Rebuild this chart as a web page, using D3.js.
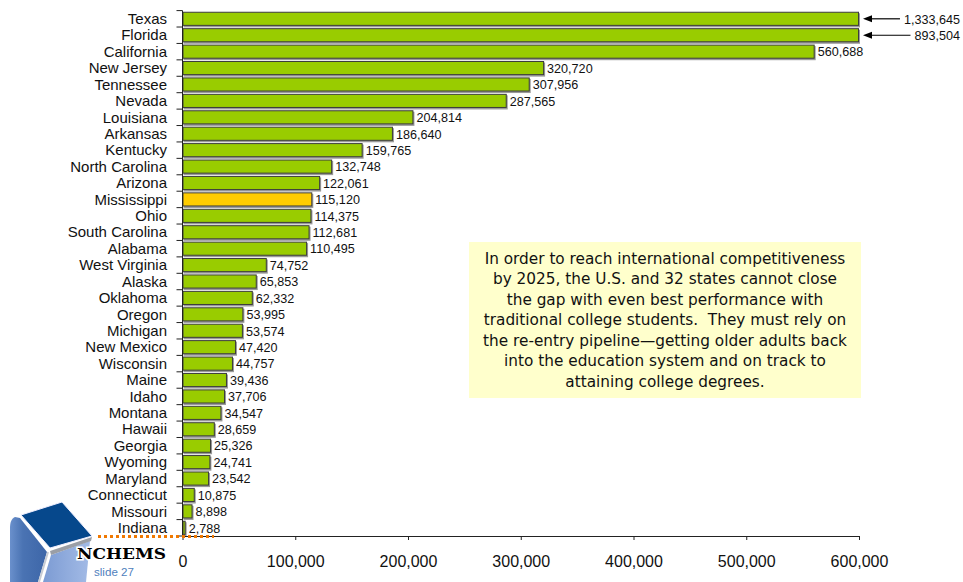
<!DOCTYPE html>
<html>
<head>
<meta charset="utf-8">
<script src="https://cdn.jsdelivr.net/npm/d3@7"></script>
<style>
  html, body { margin: 0; padding: 0; background: #fff; }
  svg { display: block; }
</style>
</head>
<body>
<svg id="chart" width="963" height="582"></svg>
<script>
// Re-entry pipeline gap by state (older adults needed back in the system)
const states = ["Texas","Florida","California","New Jersey","Tennessee","Nevada","Louisiana","Arkansas","Kentucky","North Carolina","Arizona","Mississippi","Ohio","South Carolina","Alabama","West Virginia","Alaska","Oklahoma","Oregon","Michigan","New Mexico","Wisconsin","Maine","Idaho","Montana","Hawaii","Georgia","Wyoming","Maryland","Connecticut","Missouri","Indiana"];
const gapValues = [1333645,893504,560688,320720,307956,287565,204814,186640,159765,132748,122061,115120,114375,112681,110495,74752,65853,62332,53995,53574,47420,44757,39436,37706,34547,28659,25326,24741,23542,10875,8898,2788];
const highlighted = ["Mississippi"];
const xTicks = [0,100000,200000,300000,400000,500000,600000];
const xMax = 600000;
const calloutLines = [
  "In order to reach international competitiveness",
  "by 2025, the U.S. and 32 states cannot close",
  "the gap with even best performance with",
  "traditional college students.  They must rely on",
  "the re-entry pipeline\u2014getting older adults back",
  "into the education system and on track to",
  "attaining college degrees."
];

const data = states.map((s, i) => ({ state: s, value: gapValues[i] }));
const svg = d3.select("#chart");
const fmt = d3.format(",");

const plotLeft = 182.5, plotRight = 859, plotTop = 10.6, plotBottom = 536;
const x = d3.scaleLinear().domain([0, xMax]).range([plotLeft, plotRight]).clamp(true);
const y = d3.scaleBand().domain(states).range([plotTop, plotBottom]).paddingInner(0.14).paddingOuter(0.07);

// Callout box
const box = svg.append("g");
box.append("rect").attr("x", 469).attr("y", 242).attr("width", 392).attr("height", 156).attr("fill", "#ffffcc");
box.append("text")
  .attr("font-family", "DejaVu Sans, Verdana, sans-serif")
  .attr("font-size", 15.3)
  .attr("fill", "#111")
  .attr("text-anchor", "middle")
  .style("white-space", "pre")
  .selectAll("tspan").data(calloutLines).join("tspan")
  .attr("x", 665)
  .attr("y", (d, i) => 263.5 + i * 20.5)
  .text(d => d);

// Bar shadows and bars
const bars = svg.append("g");
bars.selectAll("rect.shadow").data(data).join("rect")
  .attr("class", "shadow")
  .attr("x", plotLeft + 1)
  .attr("y", d => y(d.state) + 1.5)
  .attr("width", d => Math.max(0, x(d.value) - plotLeft))
  .attr("height", y.bandwidth())
  .attr("fill", "#9a9a9a");
bars.selectAll("rect.bar").data(data).join("rect")
  .attr("class", "bar")
  .attr("x", plotLeft + 0.5)
  .attr("y", d => y(d.state) + 0.5)
  .attr("width", d => Math.max(0, x(d.value) - plotLeft - 1))
  .attr("height", y.bandwidth() - 1)
  .attr("fill", d => highlighted.includes(d.state) ? "#ffcc00" : "#99cc00")
  .attr("stroke", "#3c3c3c")
  .attr("stroke-width", 1);

// Value labels; bars past the axis maximum get an arrow and an outside label
const lbl = svg.append("g").attr("font-family", "Liberation Sans, Arial, sans-serif").attr("font-size", 12.6).attr("fill", "#111");
lbl.selectAll("text.in").data(data.filter(d => d.value <= xMax)).join("text")
  .attr("class", "in")
  .attr("x", d => x(d.value) + 3)
  .attr("y", d => y(d.state) + y.bandwidth() / 2 + 4.8)
  .text(d => fmt(d.value));

const over = data.filter(d => d.value > xMax);
const overText = lbl.selectAll("text.over").data(over).join("text")
  .attr("class", "over")
  .attr("x", 960)
  .attr("text-anchor", "end")
  .attr("y", d => y(d.state) + y.bandwidth() / 2 + 4.8)
  .text(d => fmt(d.value));
const arrows = svg.append("g");
overText.each(function (d) {
  const cy = y(d.state) + y.bandwidth() / 2;
  const endX = 960 - this.getComputedTextLength() - 4;
  arrows.append("line").attr("x1", endX).attr("x2", plotRight + 10).attr("y1", cy).attr("y2", cy)
    .attr("stroke", "#000").attr("stroke-width", 1.2);
  arrows.append("path")
    .attr("d", `M${plotRight + 4},${cy} L${plotRight + 13},${cy - 3.5} L${plotRight + 13},${cy + 3.5} Z`)
    .attr("fill", "#000");
});

// Category axis
const yAxis = svg.append("g");
yAxis.append("line").attr("x1", plotLeft).attr("x2", plotLeft).attr("y1", plotTop).attr("y2", plotBottom).attr("stroke", "#222");
const bounds = states.map(s => y(s) - y.step() * y.paddingInner() / 2).concat([plotBottom]);
yAxis.selectAll("line.tick").data(bounds).join("line")
  .attr("class", "tick")
  .attr("x1", plotLeft - 6).attr("x2", plotLeft)
  .attr("y1", d => d).attr("y2", d => d)
  .attr("stroke", "#222");
yAxis.selectAll("text").data(states).join("text")
  .attr("x", 167)
  .attr("y", d => y(d) + y.bandwidth() / 2 + 5.2)
  .attr("text-anchor", "end")
  .attr("font-family", "Liberation Sans, Arial, sans-serif")
  .attr("font-size", 15)
  .attr("fill", "#111")
  .text(d => d);

// Value axis
const xAxis = svg.append("g").attr("transform", `translate(0,${plotBottom})`)
  .call(d3.axisBottom(x).tickValues(xTicks).tickSize(4).tickSizeOuter(0).tickPadding(15.5).tickFormat(fmt));
xAxis.select(".domain").attr("stroke", "#222");
xAxis.selectAll(".tick line").attr("stroke", "#222");
xAxis.selectAll(".tick text")
  .attr("font-family", "Liberation Sans, Arial, sans-serif")
  .attr("font-size", 16)
  .attr("fill", "#111");

// NCHEMS logo
const logo = svg.append("g");
const defs = svg.append("defs");
const gl = defs.append("linearGradient").attr("id", "leftFace").attr("x1", 0).attr("x2", 1).attr("y1", 0).attr("y2", 0);
gl.append("stop").attr("offset", 0).attr("stop-color", "#6a90cc");
gl.append("stop").attr("offset", 0.35).attr("stop-color", "#4a73b3");
gl.append("stop").attr("offset", 1).attr("stop-color", "#3d66a8");
const gr = defs.append("linearGradient").attr("id", "rightFace").attr("x1", 0).attr("x2", 1).attr("y1", 0).attr("y2", 0);
gr.append("stop").attr("offset", 0).attr("stop-color", "#7c9bd3");
gr.append("stop").attr("offset", 1).attr("stop-color", "#a3bbe6");
logo.append("path").attr("d", "M15,517 C11,519 10,523 10,528 L10,582 L38,582 L47,552 L20,518 Z").attr("fill", "url(#leftFace)");
logo.append("path").attr("d", "M48,552 L39,582").attr("stroke", "#c8ccd4").attr("stroke-width", 2);
logo.append("path").attr("d", "M51,555 L90,541 L86,582 L43,582 Z").attr("fill", "url(#rightFace)");
logo.append("path").attr("d", "M50,551 L92,537 L91,541 L51,555 Z").attr("fill", "#9a9ea6");
logo.append("path").attr("d", "M21,515 L62,502 L92,536 L50,548 Z").attr("fill", "#06488c").attr("stroke", "#eef").attr("stroke-width", 1);
logo.append("line").attr("x1", 98).attr("x2", 214).attr("y1", 536.5).attr("y2", 536.5)
  .attr("stroke", "#f07800").attr("stroke-width", 3).attr("stroke-dasharray", "3,3");
logo.append("text").attr("x", 77).attr("y", 559)
  .attr("font-family", "DejaVu Serif, Liberation Serif, serif")
  .attr("font-weight", "bold").attr("font-size", 15.5)
  .attr("textLength", 89).attr("lengthAdjust", "spacingAndGlyphs")
  .attr("stroke", "#fff").attr("stroke-width", 3).attr("paint-order", "stroke")
  .attr("fill", "#000").text("NCHEMS");
logo.append("text").attr("x", 94).attr("y", 576)
  .attr("font-family", "Liberation Sans, Arial, sans-serif")
  .attr("font-size", 11.6).attr("fill", "#4f81bd").text("slide 27");
</script>
</body>
</html>
